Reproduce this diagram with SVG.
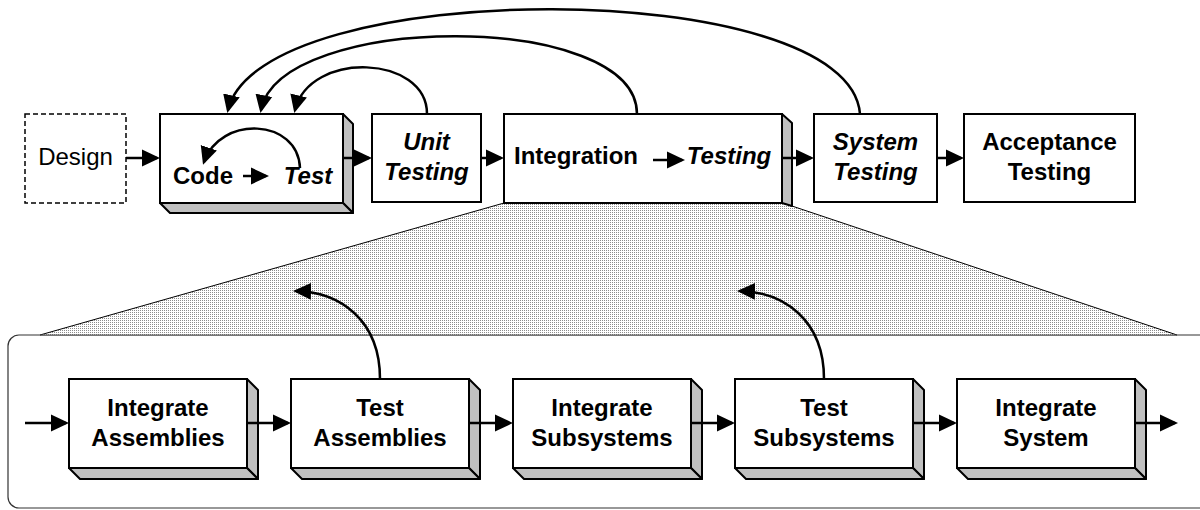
<svg xmlns="http://www.w3.org/2000/svg" width="1200" height="510" viewBox="0 0 1200 510">
  <style>
    .box { fill: #ffffff; stroke: #000000; stroke-width: 2; }
    .side { fill: #c0c0c0; stroke: #000000; stroke-width: 2; stroke-linejoin: round; }
    .dash { fill: #ffffff; stroke: #000000; stroke-width: 1.5; stroke-dasharray: 5 3; }
    .lbl { font-family: "Liberation Sans", Arial, sans-serif; font-size: 24px; fill: #000000; text-anchor: middle; }
    .b { font-weight: bold; }
    .bi { font-weight: bold; font-style: italic; }
    .flow { fill: none; stroke: #000000; stroke-width: 2.5; marker-end: url(#ah); }
    .loop { fill: none; stroke: #000000; stroke-width: 2.5; marker-end: url(#ah); }
  </style>
  <defs>
    <marker id="ah" markerUnits="userSpaceOnUse" markerWidth="18" markerHeight="18" viewBox="0 0 18 18" refX="15" refY="9" orient="auto">
      <path d="M0,0.5 L18,9 L0,17.5 Z" fill="#000000"/>
    </marker>
    <pattern id="stipple" patternUnits="userSpaceOnUse" width="2" height="2">
      <rect width="2" height="2" fill="#ffffff"/>
      <rect width="1" height="1" fill="#8c8c8c"/>
    </pattern>
  </defs>

  <!-- expanded detail panel -->
  <g id="detail-panel">
    <rect x="8" y="335" width="1215" height="173" rx="11" ry="11" fill="#ffffff" stroke="#333333" stroke-width="1.2"/>
    <polygon points="504,203 783,203 1177,335 40,335" fill="url(#stipple)"/>
    <line x1="504" y1="203" x2="40" y2="335" stroke="#000000" stroke-width="1"/>
    <line x1="783" y1="203" x2="1177" y2="335" stroke="#000000" stroke-width="1"/>
    <line x1="40" y1="335" x2="1177" y2="335" stroke="#555555" stroke-width="1.2"/>
  </g>

  <!-- top row -->
  <g id="design">
    <rect class="dash" x="25" y="114" width="101" height="89"/>
    <text class="lbl" x="75.5" y="165">Design</text>
  </g>

  <g id="code-test">
    <polygon class="side" points="343,114 353,124 353,213 343,203"/>
    <polygon class="side" points="160,203 343,203 353,213 170,213"/>
    <rect class="box" x="160" y="114" width="183" height="89"/>
    <text class="lbl b" x="203" y="184">Code</text>
    <text class="lbl bi" x="308" y="184">Test</text>
  </g>

  <g id="unit-testing">
    <rect class="box" x="372" y="114" width="109" height="88"/>
    <text class="lbl bi" x="426.5" y="150">Unit</text>
    <text class="lbl bi" x="426.5" y="180">Testing</text>
  </g>

  <g id="integration-testing">
    <polygon class="side" points="782,114 792,123 792,206 782,203"/>
    <rect class="box" x="504" y="114" width="278" height="89"/>
    <text class="lbl b" x="576" y="164">Integration</text>
    <text class="lbl bi" x="729" y="164">Testing</text>
  </g>

  <g id="system-testing">
    <rect class="box" x="814" y="114" width="123" height="88"/>
    <text class="lbl bi" x="875.5" y="150">System</text>
    <text class="lbl bi" x="875.5" y="180">Testing</text>
  </g>

  <g id="acceptance-testing">
    <rect class="box" x="964" y="114" width="171" height="88"/>
    <text class="lbl b" x="1049.5" y="150">Acceptance</text>
    <text class="lbl b" x="1049.5" y="180">Testing</text>
  </g>

  <!-- bottom row -->
  <g id="integrate-assemblies">
    <polygon class="side" points="247,379 258,390 258,479 247,468"/>
    <polygon class="side" points="69,468 247,468 258,479 80,479"/>
    <rect class="box" x="69" y="379" width="178" height="89"/>
    <text class="lbl b" x="158" y="415.5">Integrate</text>
    <text class="lbl b" x="158" y="445.5">Assemblies</text>
  </g>

  <g id="test-assemblies">
    <polygon class="side" points="469,379 480,390 480,479 469,468"/>
    <polygon class="side" points="291,468 469,468 480,479 302,479"/>
    <rect class="box" x="291" y="379" width="178" height="89"/>
    <text class="lbl b" x="380" y="415.5">Test</text>
    <text class="lbl b" x="380" y="445.5">Assemblies</text>
  </g>

  <g id="integrate-subsystems">
    <polygon class="side" points="691,379 702,390 702,479 691,468"/>
    <polygon class="side" points="513,468 691,468 702,479 524,479"/>
    <rect class="box" x="513" y="379" width="178" height="89"/>
    <text class="lbl b" x="602" y="415.5">Integrate</text>
    <text class="lbl b" x="602" y="445.5">Subsystems</text>
  </g>

  <g id="test-subsystems">
    <polygon class="side" points="913,379 924,390 924,479 913,468"/>
    <polygon class="side" points="735,468 913,468 924,479 746,479"/>
    <rect class="box" x="735" y="379" width="178" height="89"/>
    <text class="lbl b" x="824" y="415.5">Test</text>
    <text class="lbl b" x="824" y="445.5">Subsystems</text>
  </g>

  <g id="integrate-system">
    <polygon class="side" points="1135,379 1146,390 1146,479 1135,468"/>
    <polygon class="side" points="957,468 1135,468 1146,479 968,479"/>
    <rect class="box" x="957" y="379" width="178" height="89"/>
    <text class="lbl b" x="1046" y="415.5">Integrate</text>
    <text class="lbl b" x="1046" y="445.5">System</text>
  </g>

  <!-- connectors -->
  <g id="connectors">
    <!-- main flow, top row -->
    <path class="flow" d="M126,158 H157"/>
    <path class="flow" d="M343,158 H369"/>
    <path class="flow" d="M481,158 H501"/>
    <path class="flow" d="M782,158 H811"/>
    <path class="flow" d="M937,158 H961"/>
    <!-- inside the boxes -->
    <path class="flow" d="M243,176 H266"/>
    <path class="flow" d="M653,160 H682"/>
    <path class="loop" d="M300,168 C298,118 220,115 204,162"/>
    <!-- feedback arcs to Code -->
    <path class="loop" d="M427,114 C427,55 310,50 295,110"/>
    <path class="loop" d="M637,114 C637,10 280,12 261,110"/>
    <path class="loop" d="M860,114 C850,-25 260,-25 228,110"/>
    <!-- main flow, bottom row -->
    <path class="flow" d="M25,423 H66"/>
    <path class="flow" d="M247,423 H288"/>
    <path class="flow" d="M469,423 H510"/>
    <path class="flow" d="M691,423 H732"/>
    <path class="flow" d="M913,423 H954"/>
    <path class="flow" d="M1135,423 H1175"/>
    <!-- test results fed back up -->
    <path class="loop" d="M380,379 C380,320 340,292 296,291"/>
    <path class="loop" d="M824,379 C824,320 784,292 740,291"/>
  </g>
</svg>
